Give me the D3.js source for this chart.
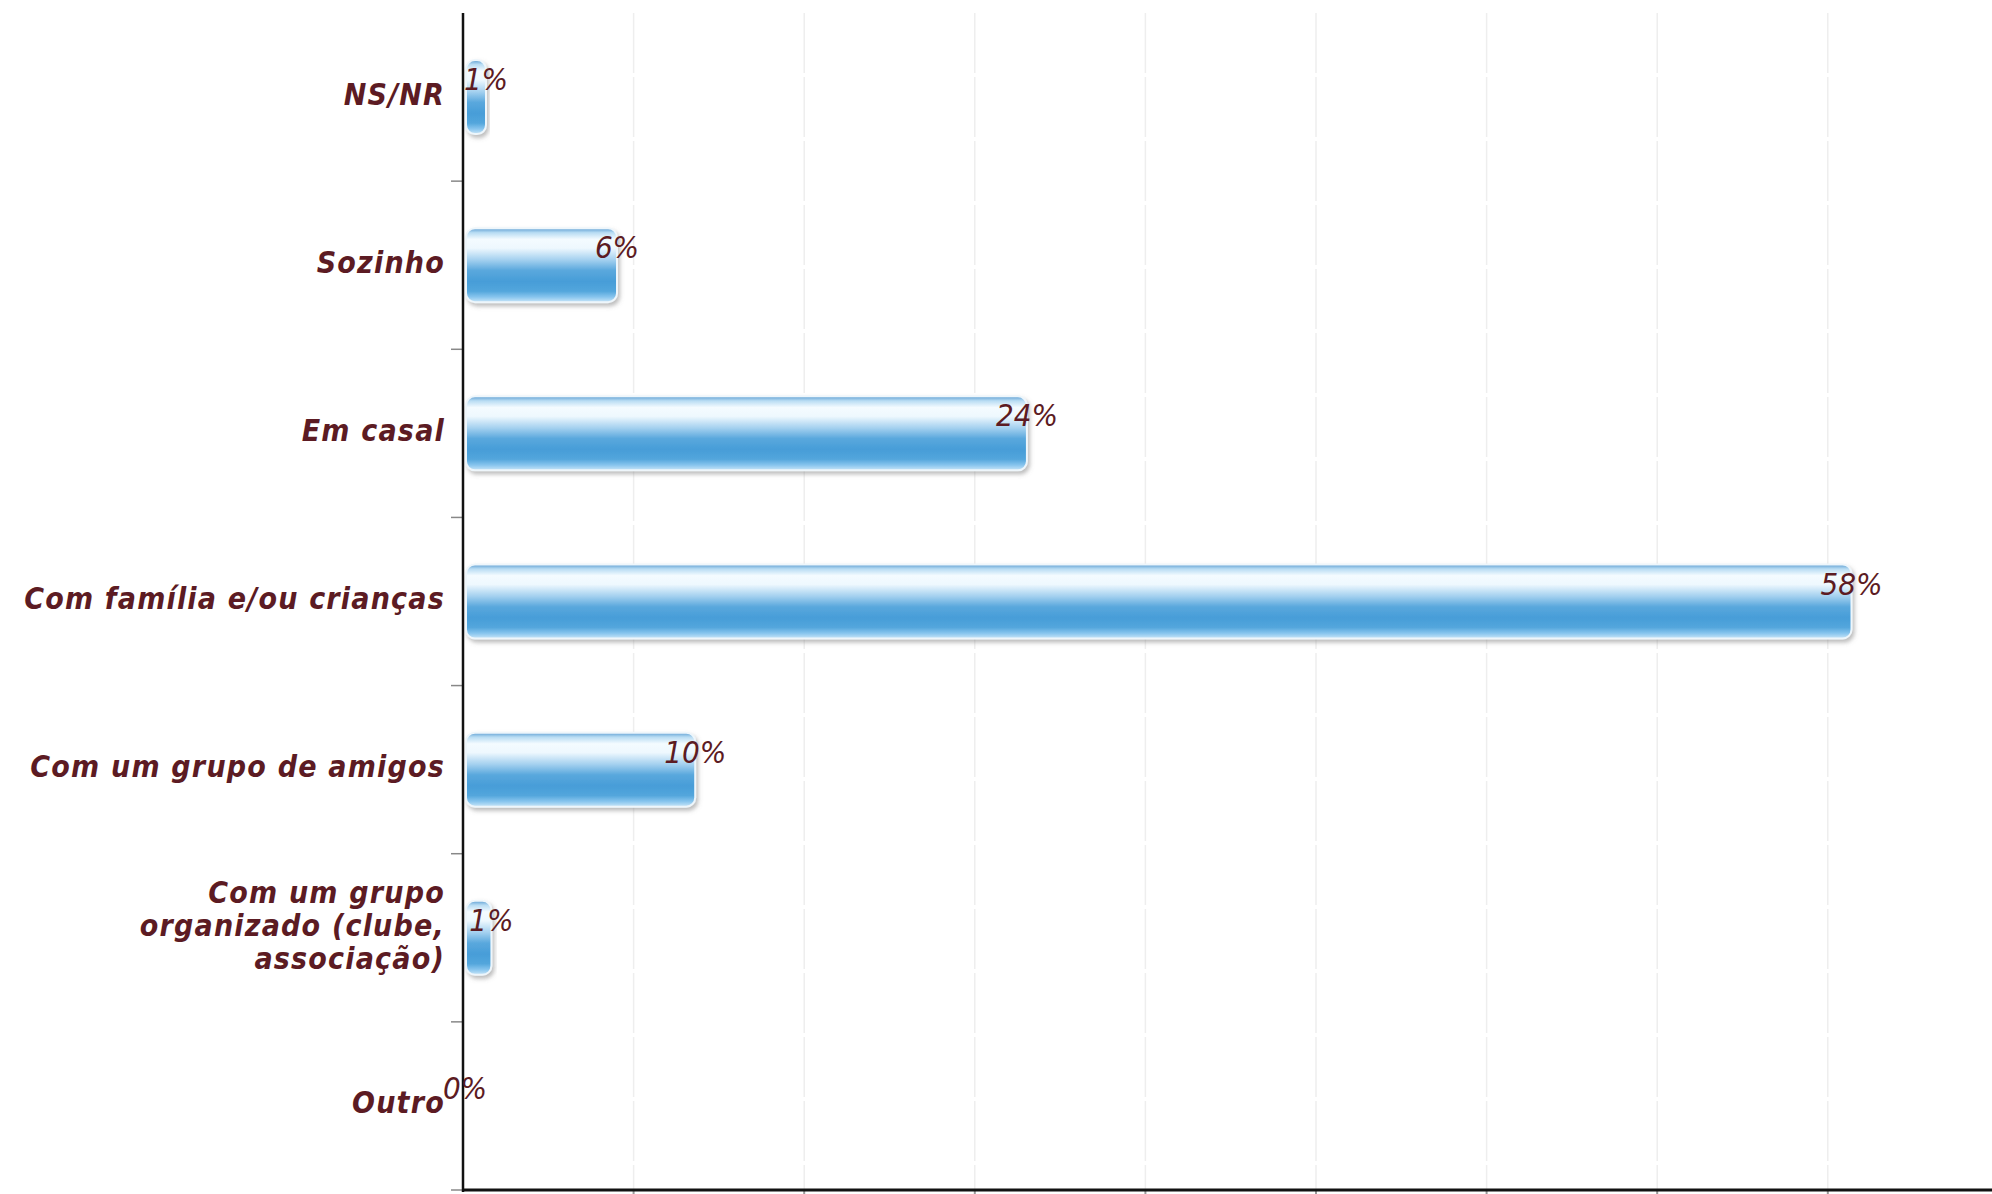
<!DOCTYPE html>
<html>
<head>
<meta charset="utf-8">
<script src="https://cdn.jsdelivr.net/npm/d3@7"></script>
<style>
  html, body { margin: 0; padding: 0; background: #ffffff; }
  svg { display: block; }
</style>
</head>
<body>
<div id="chart"></div>
<script>
// ---- data ----
const categories = [
  "NS/NR",
  "Sozinho",
  "Em casal",
  "Com família e/ou crianças",
  "Com um grupo de amigos",
  "Com um grupo organizado (clube, associação)",
  "Outro"
];
const categoryLines = [
  ["NS/NR"],
  ["Sozinho"],
  ["Em casal"],
  ["Com família e/ou crianças"],
  ["Com um grupo de amigos"],
  ["Com um grupo", "organizado (clube,", "associação)"],
  ["Outro"]
];
const values = [0.9, 6.5, 23.8, 58.6, 9.8, 1.2, 0];
const valueLabels = ["1%", "6%", "24%", "58%", "10%", "1%", "0%"];
const gridValues = [7.2, 14.4, 21.6, 28.8, 36, 43.2, 50.4, 57.6, 64.8];

// ---- layout ----
const W = 1992, H = 1194;
const plotLeft = 463, plotTop = 13, plotBottom = 1190;

const svg = d3.select("#chart").append("svg").attr("width", W).attr("height", H);

const x = d3.scaleLinear().domain([0, 72]).range([plotLeft, plotLeft + 1706]);
const y = d3.scaleBand().domain(categories).range([plotTop, plotBottom]).paddingInner(0.56).paddingOuter(0.28);
const yTicks = d3.scaleBand().domain(categories).range([plotTop, plotBottom]);

const defs = svg.append("defs");
const grad = defs.append("linearGradient").attr("id", "barGrad")
  .attr("x1", 0).attr("y1", 0).attr("x2", 0).attr("y2", 1);
[
  [0.00, "#5f9fd2"],
  [0.06, "#b8dcf3"],
  [0.15, "#f4fbff"],
  [0.27, "#eef8fe"],
  [0.43, "#a3d0ef"],
  [0.57, "#5aa8dd"],
  [0.72, "#479dd8"],
  [0.85, "#53a6dc"],
  [0.93, "#88c5ee"],
  [1.00, "#c9e6f8"]
].forEach(([o, c]) => grad.append("stop").attr("offset", o).attr("stop-color", c));

const shadow = defs.append("filter").attr("id", "shadow")
  .attr("x", "-10%").attr("y", "-20%").attr("width", "130%").attr("height", "160%");
shadow.append("feDropShadow").attr("dx", 2).attr("dy", 3).attr("stdDeviation", 2)
  .attr("flood-color", "#777").attr("flood-opacity", 0.5);

// gridlines
svg.append("g").selectAll("line").data(gridValues).join("line")
  .attr("x1", d => x(d)).attr("x2", d => x(d))
  .attr("y1", plotTop).attr("y2", plotBottom)
  .attr("stroke", "#eeeeee").attr("stroke-width", 1.5)
  .attr("stroke-dasharray", "60,4");

// bottom ticks
svg.append("g").selectAll("line").data(gridValues).join("line")
  .attr("x1", d => x(d)).attr("x2", d => x(d))
  .attr("y1", plotBottom).attr("y2", plotBottom + 6)
  .attr("stroke", "#999").attr("stroke-width", 2);

// left ticks (band boundaries)
const tickPositions = categories.slice(1).map(c => yTicks(c)).concat([plotBottom]);
svg.append("g").selectAll("line").data(tickPositions).join("line")
  .attr("x1", plotLeft - 12).attr("x2", plotLeft)
  .attr("y1", d => d).attr("y2", d => d)
  .attr("stroke", "#888").attr("stroke-width", 1.5);

// bars
const data = categories.map((c, i) => ({ c, v: values[i], label: valueLabels[i], lines: categoryLines[i] }));
const minW = 20;
svg.append("g").selectAll("rect").data(data.filter(d => d.v > 0)).join("rect")
  .attr("x", x(0) + 3)
  .attr("y", d => y(d.c))
  .attr("width", d => Math.max(minW, x(d.v) - x(0) - 3))
  .attr("height", y.bandwidth())
  .attr("rx", 9).attr("ry", 9)
  .attr("fill", "url(#barGrad)")
  .attr("stroke", "#eef6fb").attr("stroke-width", 2)
  .attr("filter", "url(#shadow)");

// axes lines
svg.append("line").attr("x1", plotLeft).attr("x2", plotLeft).attr("y1", plotTop).attr("y2", plotBottom + 2)
  .attr("stroke", "#111").attr("stroke-width", 2.5);
svg.append("line").attr("x1", plotLeft).attr("x2", W).attr("y1", plotBottom).attr("y2", plotBottom)
  .attr("stroke", "#111").attr("stroke-width", 3);

// category labels
const textColor = "#5c1b23";
const labG = svg.append("g")
  .attr("font-family", "'DejaVu Sans Condensed', 'DejaVu Sans', sans-serif")
  .attr("font-weight", "bold").attr("font-style", "italic")
  .attr("font-size", 30).attr("fill", textColor)
  .attr("text-anchor", "end").attr("letter-spacing", 1.2);
data.forEach(d => {
  const cy = y(d.c) + y.bandwidth() / 2;
  const n = d.lines.length;
  const lh = 33;
  const offset = n > 1 ? -12 : -3;
  d.lines.forEach((ln, j) => {
    labG.append("text")
      .attr("x", plotLeft - 18)
      .attr("y", cy + offset + (j - (n - 1) / 2) * lh)
      .attr("dominant-baseline", "central")
      .text(ln);
  });
});

// value labels
svg.append("g").selectAll("text").data(data).join("text")
  .attr("x", d => d.v > 0 ? Math.max(x(0) + 3 + minW, x(d.v)) : x(0) + 2)
  .attr("y", d => y(d.c) + 19)
  .attr("dominant-baseline", "central")
  .attr("text-anchor", "middle")
  .attr("font-family", "'DejaVu Sans Condensed', 'DejaVu Sans', sans-serif")
  .attr("font-style", "italic")
  .attr("font-size", 31)
  .attr("fill", textColor)
  .text(d => d.label);
</script>
</body>
</html>
